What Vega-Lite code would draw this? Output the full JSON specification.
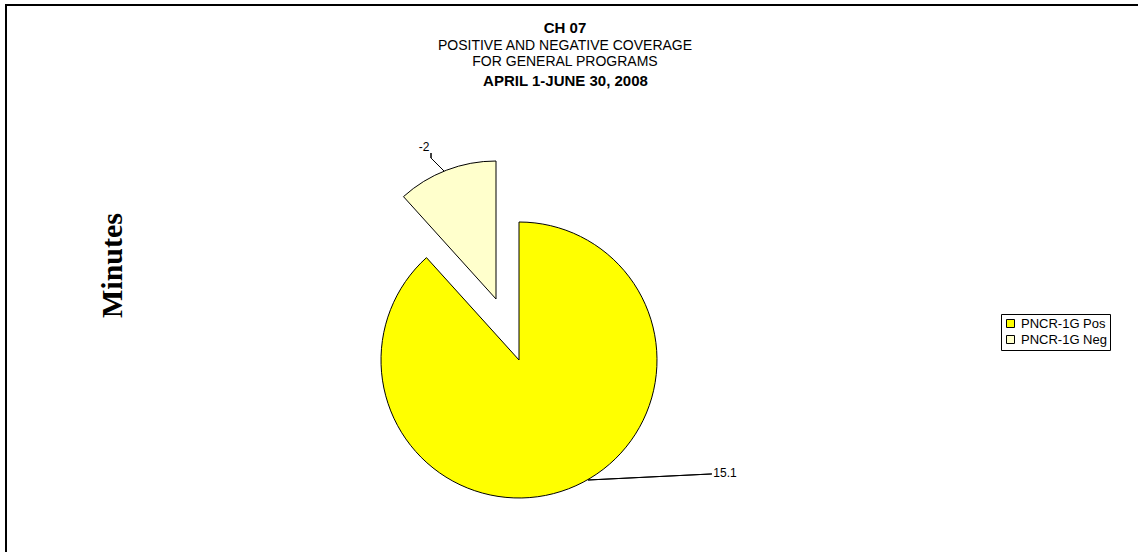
{
  "$schema": "https://vega.github.io/schema/vega-lite/v6.json",
  "width": 1200,
  "height": 600,
  "autosize": {"type": "none"},
  "padding": {"left": 6, "top": 5, "right": 0, "bottom": 0},
  "background": "white",
  "config": {
    "view": {"stroke": "black", "strokeWidth": 2},
    "font": "Liberation Sans"
  },
  "title": {
    "text": "CH 07",
    "subtitle": ["POSITIVE AND NEGATIVE COVERAGE", "FOR  GENERAL PROGRAMS"],
    "anchor": "middle",
    "frame": "group",
    "offset": -66,
    "dx": -41,
    "dy": -2,
    "font": "Liberation Sans",
    "fontSize": 15,
    "fontWeight": "bold",
    "color": "black",
    "subtitleFont": "Liberation Sans",
    "subtitleFontSize": 14,
    "subtitleFontWeight": "normal",
    "subtitleColor": "black",
    "subtitleLineHeight": 16,
    "subtitlePadding": 3
  },
  "data": {
    "values": [
      {"series": "PNCR-1G Pos", "minutes": 15.1, "magnitude": 15.1},
      {"series": "PNCR-1G Neg", "minutes": -2, "magnitude": 2}
    ]
  },
  "transform": [
    {"stack": "magnitude", "groupby": [], "as": ["start", "end"]}
  ],
  "layer": [
    {
      "mark": {"type": "point", "opacity": 0},
      "encoding": {
        "x": {
          "field": "series", "type": "nominal",
          "axis": {
            "orient": "top", "title": "APRIL 1-JUNE 30, 2008",
            "labels": false, "ticks": false, "domain": false, "grid": false,
            "minExtent": 0, "maxExtent": 0,
            "titleFont": "Liberation Sans", "titleFontSize": 15, "titleFontWeight": "bold",
            "titleColor": "black", "titleX": 559, "titleY": 75,
            "titleAlign": "center", "titleBaseline": "middle", "titleAngle": 0
          }
        },
        "y": {
          "field": "series", "type": "nominal",
          "axis": {
            "title": "Minutes",
            "labels": false, "ticks": false, "domain": false, "grid": false,
            "minExtent": 0, "maxExtent": 0,
            "titleFont": "Liberation Serif", "titleFontSize": 30, "titleFontWeight": "bold",
            "titleColor": "black", "titleX": 106, "titleY": 260,
            "titleAlign": "center", "titleBaseline": "middle", "titleAngle": 270
          }
        }
      }
    },
    {
      "transform": [{"filter": "datum.series == 'PNCR-1G Pos'"}],
      "mark": {"type": "arc", "radius": 138, "stroke": "black", "strokeWidth": 1, "xOffset": -87, "yOffset": 55},
      "encoding": {
        "theta": {"field": "start", "type": "quantitative"},
        "theta2": {"field": "end"},
        "color": {
          "field": "series", "type": "nominal",
          "scale": {"domain": ["PNCR-1G Pos", "PNCR-1G Neg"], "range": ["#FFFF00", "#FFFFCC"]},
          "legend": {
            "orient": "none", "legendX": 995, "legendY": 309, "title": null,
            "symbolType": "square", "symbolSize": 64, "symbolStrokeColor": "black", "symbolStrokeWidth": 1,
            "labelFont": "Liberation Sans", "labelFontSize": 13, "labelColor": "black", "labelOffset": 4,
            "rowPadding": 2, "padding": 3, "strokeColor": "black"
          }
        }
      }
    },
    {
      "transform": [{"filter": "datum.series == 'PNCR-1G Neg'"}],
      "mark": {"type": "arc", "radius": 138, "stroke": "black", "strokeWidth": 1, "xOffset": -110, "yOffset": -6},
      "encoding": {
        "theta": {"field": "start", "type": "quantitative"},
        "theta2": {"field": "end"},
        "color": {"field": "series", "type": "nominal"}
      }
    },
    {
      "transform": [{"filter": "datum.series == 'PNCR-1G Pos'"}],
      "mark": {"type": "arc", "radius": 124, "radius2": 0, "thetaOffset": 1.522, "theta2Offset": 1.522, "fill": null, "stroke": "black", "strokeWidth": 1, "xOffset": -18, "yOffset": 175},
      "encoding": {
        "theta": {"field": "start", "type": "quantitative"},
        "theta2": {"field": "start"}
      }
    },
    {
      "transform": [{"filter": "datum.series == 'PNCR-1G Neg'"}],
      "mark": {"type": "arc", "radius": 18, "radius2": 0, "thetaOffset": -0.785, "theta2Offset": -0.785, "fill": null, "stroke": "black", "strokeWidth": 1, "xOffset": -162, "yOffset": -134},
      "encoding": {
        "theta": {"field": "end", "type": "quantitative"},
        "theta2": {"field": "end"}
      }
    },
    {
      "transform": [{"filter": "datum.series == 'PNCR-1G Neg'"}],
      "mark": {"type": "arc", "radius": 5, "radius2": 0, "thetaOffset": 0, "theta2Offset": 0, "fill": null, "stroke": "black", "strokeWidth": 1, "xOffset": -175, "yOffset": -147},
      "encoding": {
        "theta": {"field": "end", "type": "quantitative"},
        "theta2": {"field": "end"}
      }
    },
    {
      "transform": [{"filter": "datum.series == 'PNCR-1G Pos'"}],
      "mark": {"type": "text", "radius": 0, "xOffset": -87, "yOffset": 55, "dx": 206, "dy": 113, "font": "Liberation Sans", "fontSize": 12, "fill": "black"},
      "encoding": {
        "theta": {"field": "start", "type": "quantitative"},
        "text": {"field": "minutes", "type": "nominal"}
      }
    },
    {
      "transform": [{"filter": "datum.series == 'PNCR-1G Neg'"}],
      "mark": {"type": "text", "radius": 0, "xOffset": -87, "yOffset": 55, "dx": -95, "dy": -213, "font": "Liberation Sans", "fontSize": 12, "fill": "black"},
      "encoding": {
        "theta": {"field": "start", "type": "quantitative"},
        "text": {"field": "minutes", "type": "nominal"}
      }
    }
  ]
}
